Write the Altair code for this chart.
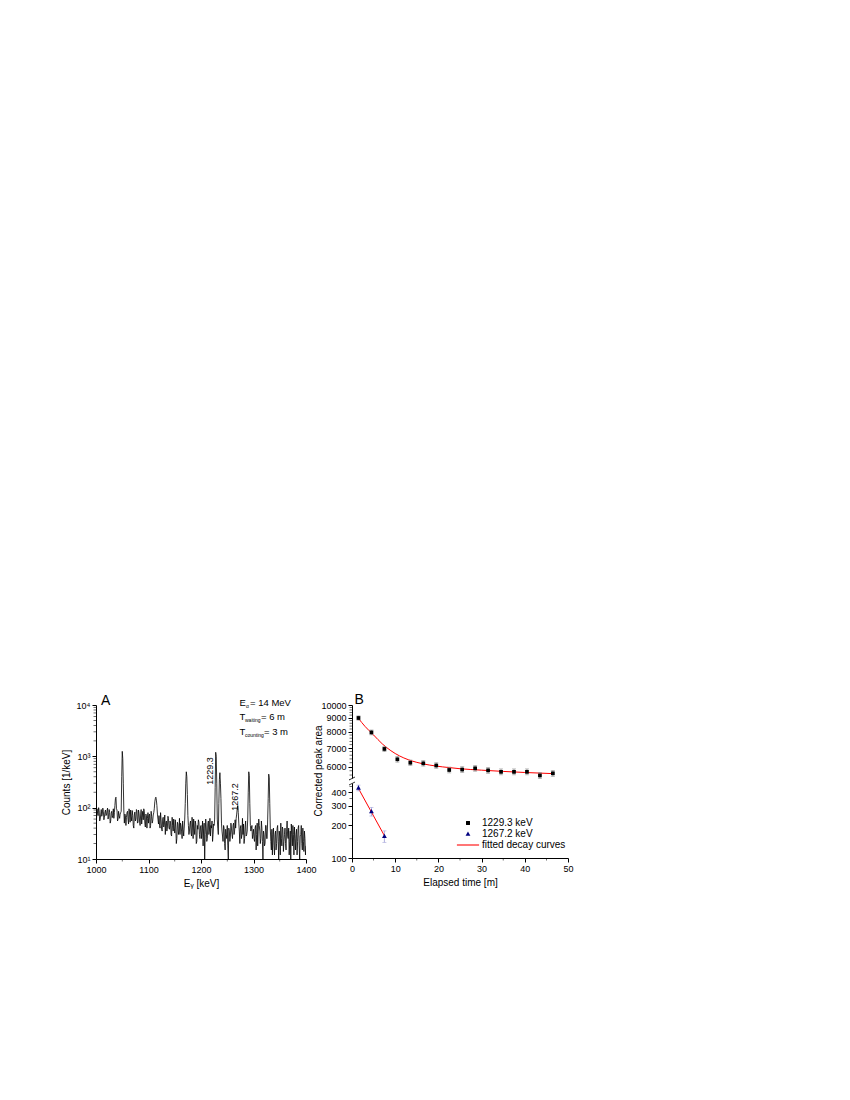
import altair as alt
import pandas as pd

FONT = "Liberation Sans"

# ---------------- Panel A : gamma spectrum (1 keV steps) ----------------
energy_kev = list(range(1000, 1401))
counts_per_kev = [
    80, 62, 95, 78, 70, 100, 88, 55, 60, 75, 92, 68, 75, 98, 85, 58, 65, 82, 90, 70,              # 1000-1019
    72, 88, 98, 60, 68, 92, 80, 50, 55, 78, 85, 64, 70, 95, 62, 80, 110, 150, 160, 95,            # 1020-1039
    90, 55, 60, 85, 70, 62, 75, 80, 85, 400, 1250, 900, 300, 90, 50, 75, 70, 45, 65, 80,          # 1040-1059
    85, 60, 48, 95, 75, 52, 90, 68, 55, 88, 70, 45, 40, 72, 82, 55, 60, 92, 88, 50,               # 1060-1079
    52, 90, 78, 55, 45, 72, 92, 48, 65, 85, 58, 95, 85, 50, 42, 75, 70, 40, 62, 80,               # 1080-1099
    50, 70, 75, 40, 45, 85, 68, 50, 55, 72, 80, 95, 130, 150, 160, 140, 110, 75, 60, 48,          # 1100-1119
    70, 45, 40, 80, 58, 38, 35, 60, 65, 42, 48, 72, 30, 50, 55, 35, 42, 68, 62, 40,               # 1120-1139
    38, 55, 50, 30, 28, 65, 45, 35, 60, 40, 32, 58, 42, 20, 25, 52, 48, 30, 35, 62,               # 1140-1159
    30, 50, 45, 35, 25, 55, 38, 28, 40, 60, 120, 300, 500, 400, 180, 70, 45, 30, 35, 48,          # 1160-1179
    55, 32, 28, 65, 42, 25, 60, 40, 30, 55, 48, 20, 22, 45, 38, 58, 52, 30, 25, 42,               # 1180-1199
    45, 25, 35, 55, 18, 40, 50, 8, 30, 60, 42, 22, 25, 48, 55, 30, 35, 62, 28, 45,                # 1200-1219
    40, 55, 22, 30, 48, 45, 60, 250, 1200, 1000, 300, 60, 40, 30, 120, 350, 480, 300, 150, 50,    # 1220-1239
    35, 28, 22, 45, 40, 20, 15, 38, 30, 25, 45, 18, 8, 40, 35, 22, 28, 50, 40, 30,                # 1240-1259
    25, 45, 50, 30, 35, 58, 40, 62, 75, 95, 110, 80, 50, 35, 20, 40, 45, 25, 30, 62,              # 1260-1279
    30, 48, 20, 25, 42, 55, 28, 30, 35, 60, 200, 500, 420, 120, 45, 35, 40, 45, 25, 30,           # 1280-1299
    38, 25, 22, 40, 45, 15, 30, 50, 18, 35, 60, 45, 35, 20, 25, 55, 40, 22, 8, 35,                # 1300-1319
    30, 18, 20, 45, 45, 25, 25, 60, 150, 450, 380, 120, 40, 22, 15, 38, 12, 30, 40, 18,           # 1320-1339
    12, 30, 35, 15, 20, 40, 45, 22, 8, 35, 28, 12, 50, 25, 18, 42, 38, 14, 22, 30,                # 1340-1359
    40, 20, 15, 35, 55, 28, 25, 40, 12, 22, 35, 8, 48, 30, 18, 45, 30, 12, 42, 25,                # 1360-1379
    15, 30, 38, 12, 22, 40, 45, 18, 8, 28, 30, 45, 20, 15, 40, 22, 14, 35, 25, 12,                # 1380-1399
    18,                                                                                           # 1400
]

ticks_A_x = [1000, 1100, 1200, 1300, 1400]
minor_A_x = [1050, 1150, 1250, 1350]
ticks_A_y = [10, 100, 1000, 10000]
labels_A_y = ["10\u00b9", "10\u00b2", "10\u00b3", "10\u2074"]
minor_A_y = [20, 30, 40, 50, 60, 70, 80, 90,
             200, 300, 400, 500, 600, 700, 800, 900,
             2000, 3000, 4000, 5000, 6000, 7000, 8000, 9000]

# ---------------- Panel B : decay of peak areas ----------------
time_1229 = [1.5, 4.5, 7.5, 10.5, 13.5, 16.5, 19.5, 22.5, 25.5, 28.5, 31.5, 34.5, 37.5, 40.5, 43.5, 46.5]
area_1229 = [8980, 7970, 6950, 6380, 6200, 6170, 6060, 5840, 5860, 5920, 5820, 5750, 5750, 5750, 5580, 5680]
err_1229 = [160, 160, 150, 150, 140, 140, 140, 140, 140, 140, 140, 140, 140, 140, 140, 140]

time_1267 = [1.5, 4.5, 7.5]
area_1267 = [438, 266, 158]
err_1267 = [26, 24, 19]

fit_1229_t = [1.5, 3, 5, 7, 9, 11, 13, 15, 18, 21, 25, 30, 35, 40, 46.5]
fit_1229_v = [8950, 8380, 7800, 7250, 6850, 6560, 6360, 6220, 6080, 5990, 5900, 5830, 5770, 5720, 5665]
fit_1267_t = [1.5, 7.5]
fit_1267_v = [432, 160]

ticks_B_x = [0, 10, 20, 30, 40, 50]
minor_B_x = [5, 15, 25, 35, 45]
ticks_B_up = [6000, 7000, 8000, 9000, 10000]
minor_B_up = [5400, 5600, 5800, 6200, 6400, 6600, 6800, 7200, 7400, 7600, 7800,
              8200, 8400, 8600, 8800, 9200, 9400, 9600, 9800]
ticks_B_lo = [100, 200, 300, 400]
minor_B_lo = [150, 250, 350, 450]

series_names = ["1229.3 keV", "1267.2 keV", "fitted decay curves"]
series_colors = ["black", "#000080", "red"]
series_shapes = [
    "M-0.33,-0.33H0.33V0.33H-0.33Z",
    "M0,-0.42L0.4,0.3H-0.4Z",
    "M-1.85,-0.09H1.85V0.09H-1.85Z",
]

A_W, A_H = 210, 154
B_W = 216
BU_H, BL_H = 76, 77


def note(text, x, y, size=9, angle=0, align="left", baseline="alphabetic"):
    return alt.Chart(pd.DataFrame({"t": [text]})).mark_text(
        fontSize=size, angle=angle, align=align, baseline=baseline,
        font=FONT, color="black"
    ).encode(x=alt.value(x), y=alt.value(y), text="t:N")


def minor_y(values, field="v"):
    return alt.Chart(pd.DataFrame({field: values})).mark_tick(
        orient="horizontal", size=2.5, thickness=0.8, color="black"
    ).encode(y=alt.Y(f"{field}:Q"), x=alt.value(-1.25))


def minor_x(values, h, field="v"):
    return alt.Chart(pd.DataFrame({field: values})).mark_tick(
        orient="vertical", size=2.5, thickness=0.8, color="black"
    ).encode(x=alt.X(f"{field}:Q"), y=alt.value(h + 1.25))


# ---- Panel A ----
label_expr = " : ".join(
    f"datum.value == {v} ? '{s}'" for v, s in zip(ticks_A_y[:-1], labels_A_y[:-1])
) + f" : '{labels_A_y[-1]}'"

spec_df = pd.DataFrame({"E": energy_kev, "C": counts_per_kev})
xA = alt.X("E:Q", scale=alt.Scale(domain=[1000, 1400], nice=False, zero=False),
           axis=alt.Axis(values=ticks_A_x, title="E\u1d67 [keV]", format="d",
                         titlePadding=4, labelPadding=2, labelFlush=False))
yA = alt.Y("C:Q", scale=alt.Scale(type="log", domain=[10, 10000], nice=False, clamp=True),
           axis=alt.Axis(values=ticks_A_y, title="Counts [1/keV]", labelExpr=label_expr,
                         titlePadding=5, labelPadding=2))

spectrum = alt.Chart(spec_df).mark_line(color="black", strokeWidth=0.8, clip=True).encode(x=xA, y=yA)

panel_A = alt.layer(
    spectrum,
    minor_y(minor_A_y),
    minor_x(minor_A_x, A_H),
    note("A", 5, 0, size=14),
    note("E", 143.5, 1, size=9.5),
    note("\u03b1", 150, 3, size=5),
    note("= 14 MeV", 154, 1, size=9.5),
    note("T", 143.5, 15, size=9.5),
    note("waiting", 149, 17, size=5),
    note("= 6 m", 165, 15, size=9.5),
    note("T", 143.5, 29.5, size=9.5),
    note("counting", 149, 31.5, size=5),
    note("= 3 m", 168, 29.5, size=9.5),
    note("1229.3", 113.5, 66, size=9, angle=270, align="center", baseline="middle"),
    note("1267.2", 138.5, 92, size=9, angle=270, align="center", baseline="middle"),
).properties(width=A_W, height=A_H)

# ---- Panel B upper (1229.3 keV) ----
up_df = pd.DataFrame({"t": time_1229, "a": area_1229, "e": err_1229})
up_df["lo"] = up_df["a"] - up_df["e"]
up_df["hi"] = up_df["a"] + up_df["e"]
fit_up_df = pd.DataFrame({"t": fit_1229_t, "a": fit_1229_v})

xB_up = alt.X("t:Q", scale=alt.Scale(domain=[0, 50], nice=False, zero=False), axis=None)
yB_up = alt.Y("a:Q", scale=alt.Scale(type="log", domain=[5330, 10000], nice=False),
              axis=alt.Axis(values=ticks_B_up, format="d", title=None, labelPadding=2))

up_err = alt.Chart(up_df).mark_rule(color="#8c8c8c", strokeWidth=0.8).encode(
    x=xB_up, y=alt.Y("lo:Q"), y2="hi:Q")
up_cap_lo = alt.Chart(up_df).mark_tick(orient="horizontal", size=4, thickness=0.8, color="#8c8c8c").encode(
    x=xB_up, y=alt.Y("lo:Q"))
up_cap_hi = alt.Chart(up_df).mark_tick(orient="horizontal", size=4, thickness=0.8, color="#8c8c8c").encode(
    x=xB_up, y=alt.Y("hi:Q"))
up_fit = alt.Chart(fit_up_df).mark_line(color="red", strokeWidth=1, interpolate="monotone").encode(
    x=xB_up, y=yB_up)
up_pts = alt.Chart(up_df).mark_square(size=14, color="black", opacity=1).encode(x=xB_up, y=yB_up)

panel_B_up = alt.layer(
    up_fit, up_err, up_cap_lo, up_cap_hi, up_pts,
    minor_y(minor_B_up),
    note("B", 2.5, -1, size=14),
    note("Corrected peak area", -33.5, 66, size=10, angle=270, align="center", baseline="middle"),
).properties(width=B_W, height=BU_H)

# ---- Panel B lower (1267.2 keV) ----
lo_df = pd.DataFrame({"t": time_1267, "a": area_1267, "e": err_1267,
                      "s": [series_names[1]] * len(time_1267)})
lo_df["lo"] = lo_df["a"] - lo_df["e"]
lo_df["hi"] = lo_df["a"] + lo_df["e"]
fit_lo_df = pd.DataFrame({"t": fit_1267_t, "a": fit_1267_v})

xB_lo = alt.X("t:Q", scale=alt.Scale(domain=[0, 50], nice=False, zero=False),
              axis=alt.Axis(values=ticks_B_x, title="Elapsed time [m]", format="d",
                            titlePadding=4, labelPadding=2, labelFlush=False))
yB_lo = alt.Y("a:Q", scale=alt.Scale(type="log", domain=[100, 506], nice=False),
              axis=alt.Axis(values=ticks_B_lo, format="d", title=None, labelPadding=2))

leg = alt.Legend(orient="none", legendX=110, legendY=36, title=None, labelFontSize=10,
                 labelFont=FONT, symbolSize=144, symbolStrokeWidth=0, labelOffset=8,
                 rowPadding=0, padding=0, labelColor="black")

lo_err = alt.Chart(lo_df).mark_rule(color="#9b9bd6", strokeWidth=0.8).encode(
    x=xB_lo, y=alt.Y("lo:Q"), y2="hi:Q")
lo_cap_lo = alt.Chart(lo_df).mark_tick(orient="horizontal", size=4, thickness=0.8, color="#9b9bd6").encode(
    x=xB_lo, y=alt.Y("lo:Q"))
lo_cap_hi = alt.Chart(lo_df).mark_tick(orient="horizontal", size=4, thickness=0.8, color="#9b9bd6").encode(
    x=xB_lo, y=alt.Y("hi:Q"))
lo_fit = alt.Chart(fit_lo_df).mark_line(color="red", strokeWidth=1).encode(x=xB_lo, y=yB_lo)
lo_pts = alt.Chart(lo_df).mark_point(filled=True, size=144, opacity=1).encode(
    x=xB_lo, y=yB_lo,
    color=alt.Color("s:N", scale=alt.Scale(domain=series_names, range=series_colors), legend=leg),
    shape=alt.Shape("s:N", scale=alt.Scale(domain=series_names, range=series_shapes), legend=leg),
)

brk_gap = alt.Chart(pd.DataFrame({"k": [0]})).mark_rect(color="white").encode(
    x=alt.value(-2), x2=alt.value(2), y=alt.value(-2.5), y2=alt.value(2.5))
brk_1 = alt.Chart(pd.DataFrame({"k": [0]})).mark_rule(color="black", strokeWidth=0.8).encode(
    x=alt.value(-3), x2=alt.value(3), y=alt.value(-1), y2=alt.value(-4))
brk_2 = alt.Chart(pd.DataFrame({"k": [0]})).mark_rule(color="black", strokeWidth=0.8).encode(
    x=alt.value(-3), x2=alt.value(3), y=alt.value(4), y2=alt.value(1))

panel_B_lo = alt.layer(
    lo_fit, lo_err, lo_cap_lo, lo_cap_hi, lo_pts,
    minor_y(minor_B_lo),
    minor_x(minor_B_x, BL_H),
    brk_gap, brk_1, brk_2,
).properties(width=B_W, height=BL_H)

panel_B = alt.vconcat(panel_B_up, panel_B_lo, spacing=0, bounds="flush").resolve_scale(
    color="independent", shape="independent")

chart = alt.hconcat(panel_A, panel_B, spacing=46, bounds="flush").resolve_scale(
    color="independent", shape="independent"
).properties(
    padding={"left": 53, "top": 685, "right": 5, "bottom": 5}
).configure(font=FONT, background="white").configure_view(stroke=None).configure_axis(
    domainColor="black", tickColor="black", labelColor="black", titleColor="black",
    labelFont=FONT, titleFont=FONT, labelFontSize=9, titleFontSize=10,
    titleFontWeight="normal", tickSize=4, domainWidth=1, tickWidth=1, grid=False,
)

chart.save("out.html", embed_options={"renderer": "svg", "actions": False})
